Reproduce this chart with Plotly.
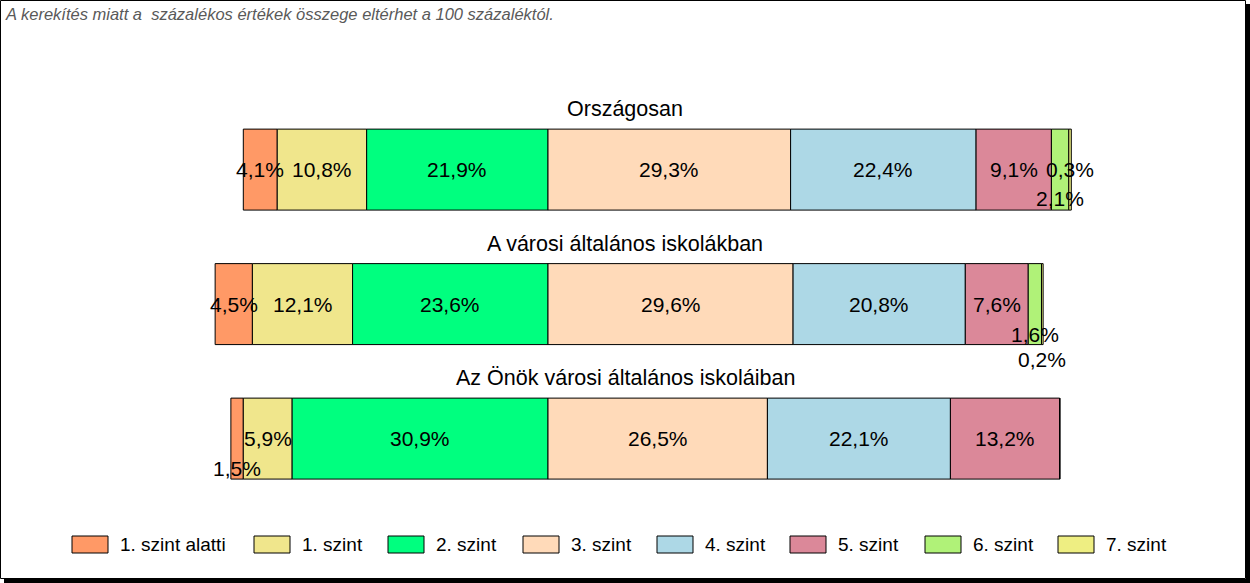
import plotly.graph_objects as go

# ---------------- data ----------------
groups = ["Országosan", "A városi általános iskolákban", "Az Önök városi általános iskoláiban"]
levels = ["1. szint alatti", "1. szint", "2. szint", "3. szint", "4. szint", "5. szint", "6. szint", "7. szint"]
lvl_below1 = [4.1, 4.5, 1.5]
lvl_1 = [10.8, 12.1, 5.9]
lvl_2 = [21.9, 23.6, 30.9]
lvl_3 = [29.3, 29.6, 26.5]
lvl_4 = [22.4, 20.8, 22.1]
lvl_5 = [9.1, 7.6, 13.2]
lvl_6 = [2.1, 1.6, 0.0]
lvl_7 = [0.3, 0.2, 0.0]
note = "A kerekítés miatt a  százalékos értékek összege eltérhet a 100 százaléktól."

# ---------------- style ----------------
colors = ["#FF9966", "#F0E68C", "#00FF7F", "#FFDAB9", "#ADD8E6", "#DB8899", "#B0F278", "#EEEE82"]
FONT = "Liberation Sans, Arial, sans-serif"
W, H = 1250, 583
# vertical offsets (px) of labels that were moved to avoid overlap: (group index, level index) -> shift
label_shift = {(0, 6): -29, (1, 6): -30, (1, 7): -55, (2, 0): -30}
legend_box_px = [72, 254, 388, 523, 657, 790, 925, 1058]

series = [lvl_below1, lvl_1, lvl_2, lvl_3, lvl_4, lvl_5, lvl_6, lvl_7]
n_left = 3  # levels drawn to the left of the zero line

fig = go.Figure()
annotations = []

# bases: left levels stack outward from 0 (2. szint nearest), right levels stack rightward
bases = [[0.0] * len(groups) for _ in series]
for g in range(len(groups)):
    acc = 0.0
    for k in range(n_left - 1, -1, -1):
        acc -= series[k][g]
        bases[k][g] = acc
    acc = 0.0
    for k in range(n_left, len(series)):
        bases[k][g] = acc
        acc += series[k][g]

for k, name in enumerate(levels):
    fig.add_trace(go.Bar(
        orientation="h", y=groups, x=series[k], base=bases[k], name=name,
        marker=dict(color=colors[k], line=dict(color="black", width=1)),
        width=0.602, showlegend=False, hoverinfo="skip",
    ))
    for g in range(len(groups)):
        v = series[k][g]
        if v <= 0:
            continue
        annotations.append(dict(
            x=bases[k][g] + v / 2, y=groups[g], xref="x", yref="y",
            text=f"{v:.1f}".replace(".", ",") + "%", showarrow=False,
            yshift=label_shift.get((g, k), 0),
            font=dict(family=FONT, size=21, color="black"),
        ))

# group titles
for g, t in enumerate(groups):
    annotations.append(dict(
        x=0.5, xref="paper", y=t, yref="y", yshift=60.5, text=t, showarrow=False,
        font=dict(family=FONT, size=21.5, color="black"),
    ))

# note
annotations.append(dict(
    x=3 / W, y=1 - 3 / H, xref="paper", yref="paper", xanchor="left", yanchor="top",
    text=f"<i>{note}</i>", showarrow=False,
    font=dict(family=FONT, size=16.5, color="#595959"),
))

shapes = []
# legend (manual, large swatches)
for k, name in enumerate(levels):
    x0 = legend_box_px[k]
    shapes.append(dict(type="rect", xref="paper", yref="paper",
                       x0=x0 / W, x1=(x0 + 36) / W, y0=1 - 553 / H, y1=1 - 536 / H,
                       fillcolor=colors[k], line=dict(color="black", width=1)))
    annotations.append(dict(x=(x0 + 46) / W, y=1 - 544.5 / H, xref="paper", yref="paper",
                            xanchor="left", yanchor="middle", text=name, showarrow=False,
                            font=dict(family=FONT, size=19, color="black")))

# frame with shadow
shapes.append(dict(type="rect", xref="paper", yref="paper", x0=0.5 / W, x1=1245.5 / W,
                   y0=1 - 578.5 / H, y1=1 - 0.5 / H, line=dict(color="black", width=1)))
shapes.append(dict(type="rect", xref="paper", yref="paper", x0=1246 / W, x1=1,
                   y0=0, y1=1 - 4 / H, fillcolor="black", line=dict(width=0)))
shapes.append(dict(type="rect", xref="paper", yref="paper", x0=4 / W, x1=1,
                   y0=0, y1=1 - 579 / H, fillcolor="black", line=dict(width=0)))

px_per_unit_x = 8.28
zero_px = 548
y_center0, y_step = 169.6, 134.5

fig.update_layout(
    width=W, height=H, margin=dict(l=0, r=0, t=0, b=0),
    paper_bgcolor="white", plot_bgcolor="white",
    barmode="overlay", showlegend=False,
    xaxis=dict(range=[-zero_px / px_per_unit_x, (W - zero_px) / px_per_unit_x], visible=False, fixedrange=True),
    yaxis=dict(type="category", range=[(H - y_center0) / y_step, -y_center0 / y_step], visible=False, fixedrange=True),
    annotations=annotations, shapes=shapes,
)

fig.write_html("out.html")
